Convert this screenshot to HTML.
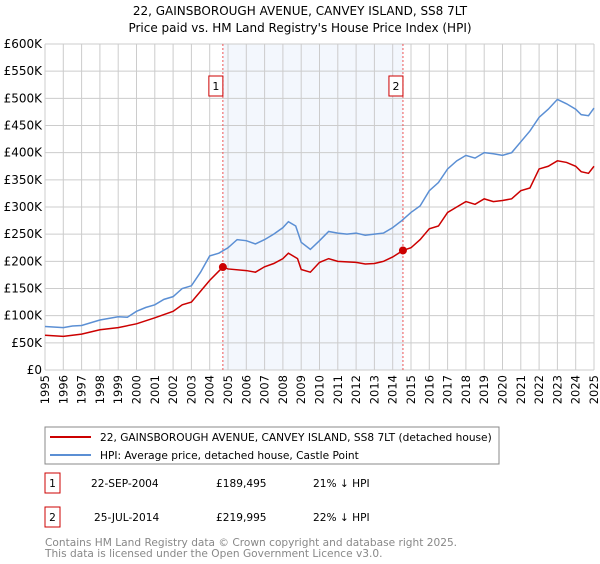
<!DOCTYPE html>
<html><head><meta charset="utf-8"><style>
body{margin:0;background:#fff;font-family:"DejaVu Sans","Liberation Sans",sans-serif;}
svg text{font-family:"DejaVu Sans","Liberation Sans",sans-serif;}
</style></head><body>
<svg id="chart" width="600" height="560" xmlns="http://www.w3.org/2000/svg">
<text x="300" y="15" text-anchor="middle" font-size="12">22, GAINSBOROUGH AVENUE, CANVEY ISLAND, SS8 7LT</text>
<text x="300" y="32" text-anchor="middle" font-size="12">Price paid vs. HM Land Registry's House Price Index (HPI)</text>
<g id="plot"></g>
<rect x="45" y="427" width="454" height="37" fill="#fff" stroke="#888"/>
<line x1="50" y1="437" x2="91" y2="437" stroke="#cc0000" stroke-width="2"/>
<text x="100" y="441" font-size="10.6">22, GAINSBOROUGH AVENUE, CANVEY ISLAND, SS8 7LT (detached house)</text>
<line x1="50" y1="455" x2="91" y2="455" stroke="#5b8fd4" stroke-width="2"/>
<text x="100" y="459" font-size="10.6">HPI: Average price, detached house, Castle Point</text>
<g font-size="10.6">
<rect x="45" y="473" width="15" height="20" fill="#fff" stroke="#cc0000"/>
<text x="52.5" y="487" text-anchor="middle">1</text>
<text x="91" y="487">22-SEP-2004</text><text x="216" y="487">£189,495</text><text x="313" y="487">21% ↓ HPI</text></g>
<g font-size="10.6">
<rect x="45" y="507" width="15" height="20" fill="#fff" stroke="#cc0000"/>
<text x="52.5" y="521" text-anchor="middle">2</text>
<text x="94" y="521">25-JUL-2014</text><text x="216" y="521">£219,995</text><text x="313" y="521">22% ↓ HPI</text></g>
<text x="45" y="546" font-size="10.6" fill="#888">Contains HM Land Registry data © Crown copyright and database right 2025.</text>
<text x="45" y="557" font-size="10.6" fill="#888">This data is licensed under the Open Government Licence v3.0.</text>
</svg>
<script>
const hpiYears=[1995,1996,1996.5,1997,1998,1998.5,1999,1999.5,2000,2000.5,2001,2001.5,2002,2002.5,2003,2003.5,2004,2004.5,2005,2005.5,2006,2006.5,2007,2007.5,2008,2008.3,2008.7,2009,2009.5,2010,2010.5,2011,2011.5,2012,2012.5,2013,2013.5,2014,2014.5,2015,2015.5,2016,2016.5,2017,2017.5,2018,2018.5,2019,2019.5,2020,2020.5,2021,2021.5,2022,2022.5,2023,2023.5,2024,2024.3,2024.7,2025];
const hpiValues=[80,78,81,82,92,95,98,97,108,115,120,130,135,150,155,180,210,215,225,240,238,232,240,250,262,273,265,235,222,238,255,252,250,252,248,250,252,262,275,290,302,330,345,370,385,395,390,400,398,395,400,420,440,465,480,498,490,480,470,468,482];
const redYears=[1995,1996,1997,1998,1999,2000,2001,2002,2002.5,2003,2003.5,2004,2004.72,2005,2006,2006.5,2007,2007.5,2008,2008.3,2008.8,2009,2009.5,2010,2010.5,2011,2012,2012.5,2013,2013.5,2014,2014.56,2015,2015.5,2016,2016.5,2017,2017.5,2018,2018.5,2019,2019.5,2020,2020.5,2021,2021.5,2022,2022.5,2023,2023.5,2024,2024.3,2024.7,2025];
const redValues=[64,62,66,74,78,85,96,108,120,125,145,165,189.5,186,183,180,190,196,205,215,205,185,180,198,205,200,198,195,196,200,208,220,225,240,260,265,290,300,310,305,315,310,312,315,330,335,370,375,385,382,375,365,362,375];
const saleYears=[2004.72,2014.56];
const saleValues=[189.495,219.995];
const saleLabels=["1","2"];
const yTicks=[0,50,100,150,200,250,300,350,400,450,500,550,600];
const xTicks=[1995,1996,1997,1998,1999,2000,2001,2002,2003,2004,2005,2006,2007,2008,2009,2010,2011,2012,2013,2014,2015,2016,2017,2018,2019,2020,2021,2022,2023,2024,2025];
const X0=45,X1=594,Y0=370,Y1=44;
const xs=v=>X0+(v-1995)/30*(X1-X0);
const ys=v=>Y0-v/600*(Y0-Y1);
const NS="http://www.w3.org/2000/svg";
const g=document.getElementById('plot');
function mk(t,a){const e=document.createElementNS(NS,t);for(const k in a)e.setAttribute(k,a[k]);g.appendChild(e);return e;}
const sh=mk('rect',{x:xs(saleYears[0]),y:Y1,width:xs(saleYears[1])-xs(saleYears[0]),height:Y0-Y1,fill:'#eef3fc',opacity:0.7});


yTicks.forEach(v=>{
 const l=mk('line',{x1:X0,x2:X1,y1:ys(v),y2:ys(v),stroke:'#cccccc'});
 
 
 const t=mk('text',{x:X0-3,y:ys(v)+4,'text-anchor':'end','font-size':12});
 t.textContent=v===0?'£0':'£'+v+'K';
 
 
});
xTicks.forEach(v=>{
 const l=mk('line',{x1:xs(v),x2:xs(v),y1:Y1,y2:Y0,stroke:'#cccccc'});
 
 
 const t=mk('text',{x:0,y:0,'text-anchor':'end','font-size':11.5,transform:`translate(${xs(v)+4},${Y0+5}) rotate(-90)`});
 t.textContent=v;
 
 
});
saleYears.forEach((v,i)=>{
 const l=mk('line',{x1:xs(v),x2:xs(v),y1:Y1,y2:Y0,stroke:'#ee5555','stroke-dasharray':'2,2'});
 
 
 const r=mk('rect',{x:xs(v)-14,y:76,width:14,height:20,fill:'#fff',stroke:'#cc0000'});
 
 
 const t=mk('text',{x:xs(v)-7,y:90,'text-anchor':'middle','font-size':11});
 t.textContent=saleLabels[i];
 
 
});
const hp=mk('polyline',{points:hpiYears.map((y,i)=>xs(y)+','+ys(hpiValues[i])).join(' '),fill:'none',stroke:'#5b8fd4','stroke-width':1.5});


const rp=mk('polyline',{points:redYears.map((y,i)=>xs(y)+','+ys(redValues[i])).join(' '),fill:'none',stroke:'#cc0000','stroke-width':1.5});


saleYears.forEach((v,i)=>{
 const c=mk('circle',{cx:xs(v),cy:ys(saleValues[i]),r:4,fill:'#cc0000'});
 
 
});
</script>
</body></html>
